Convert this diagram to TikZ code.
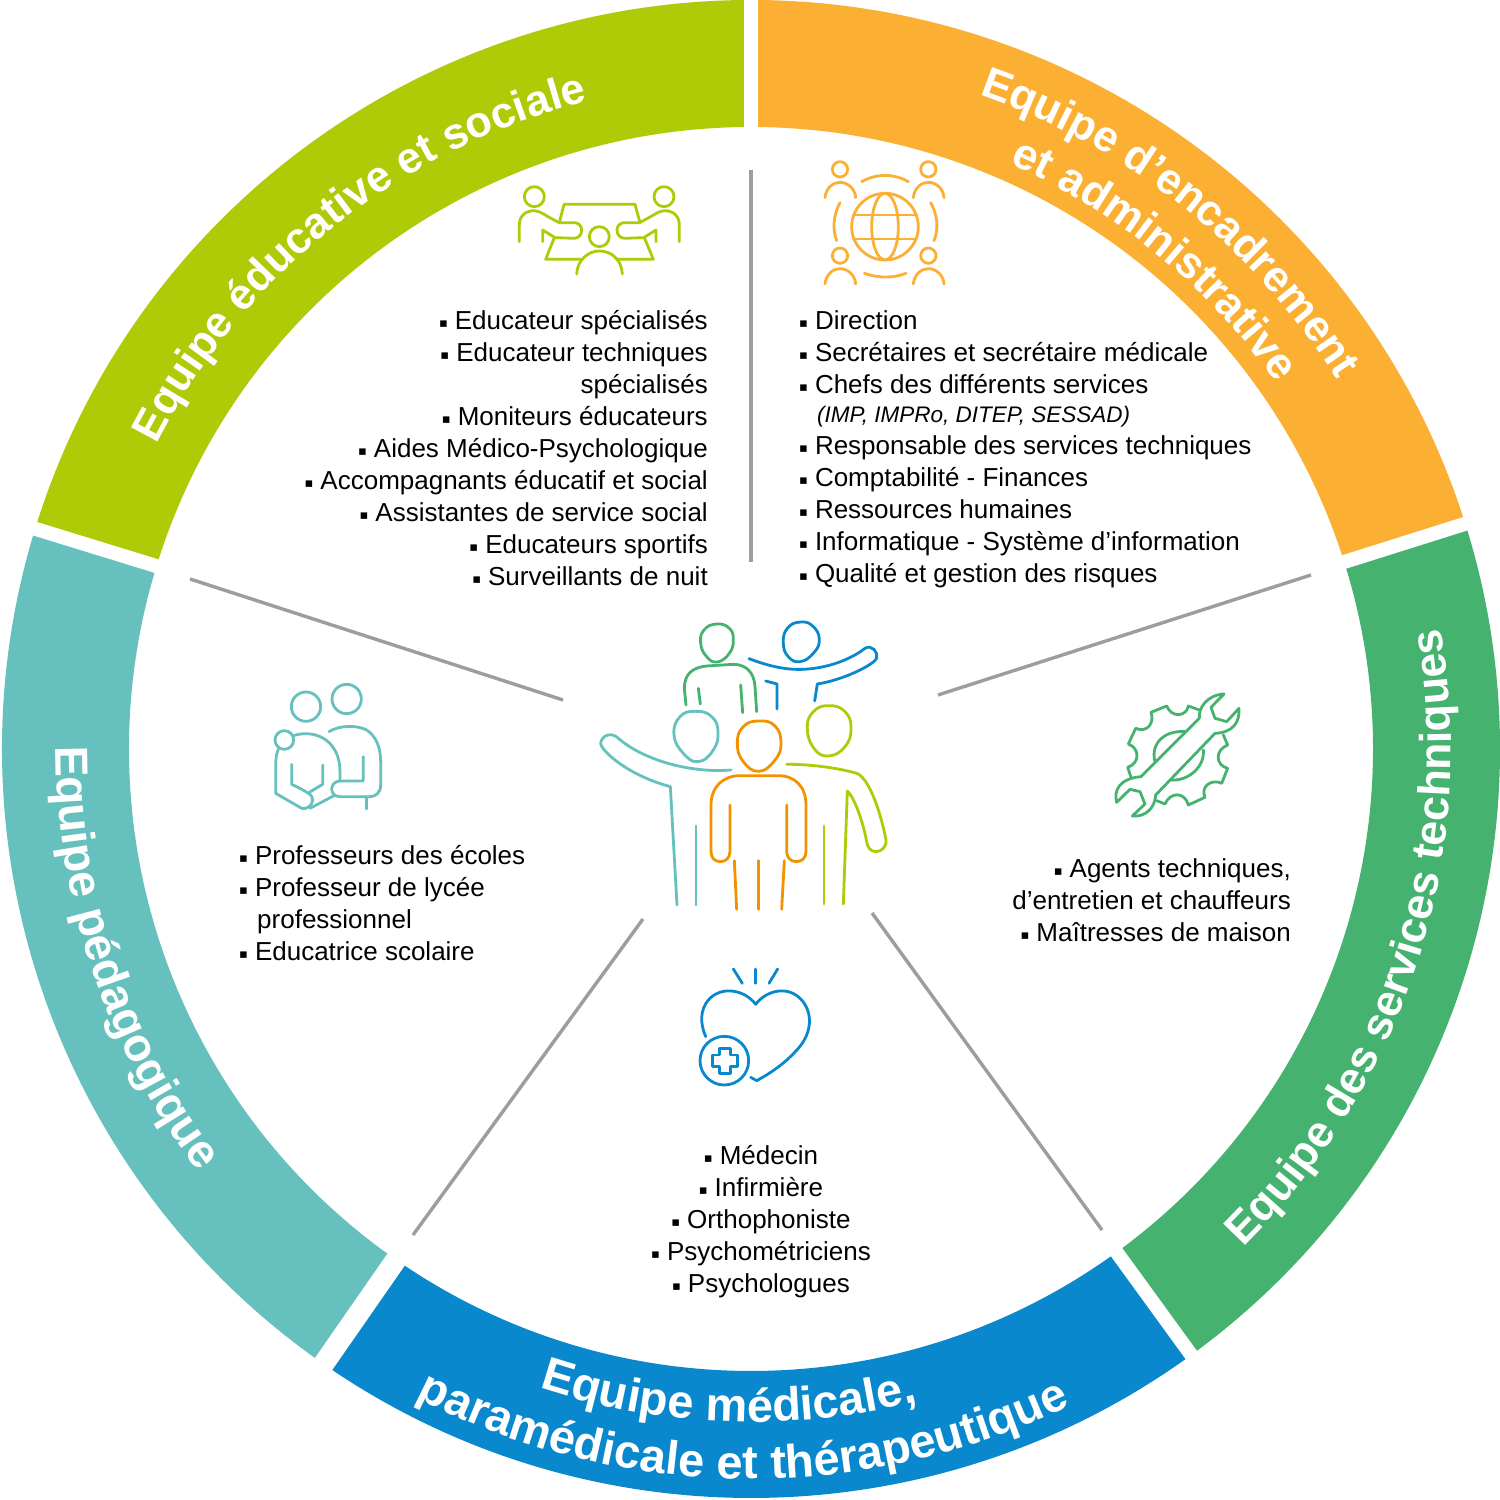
\documentclass[tikz,border=0pt]{standalone}
\usepackage{fontspec}
\usetikzlibrary{decorations.text}
\setmainfont{Liberation Sans}
\newfontfamily\symf{DejaVu Sans}
\definecolor{cLime}{HTML}{AFCB08}
\definecolor{cOrange}{HTML}{FBB034}
\definecolor{cGreen}{HTML}{45B36F}
\definecolor{cBlue}{HTML}{0A88CD}
\definecolor{cTeal}{HTML}{66C1BE}
\definecolor{cGray}{HTML}{9D9D9C}
\definecolor{cOrTwo}{HTML}{F39200}
\newcommand\bul{{\symf\fontsize{13}{13}\selectfont\raisebox{2pt}{▪}}\hspace{7pt}}
\newcommand\tfont[1]{\fontsize{#1}{50}\selectfont\bfseries\color{white}}
\newcommand\lfont{\fontsize{26}{32}\selectfont}
\tikzset{
  divider/.style={draw=cGray,line width=3.4pt},
  icon/.style={line width=2.8pt,line cap=round,line join=round},
  head/.style={smooth cycle,tension=0.8},
  listtext/.style={inner sep=0pt,font=\lfont,text=black},
  curved/.style 2 args={decorate,decoration={text along path,text align=center,text={|\tfont{#1}|#2}}},
}
\begin{document}
\begin{tikzpicture}[x=1pt,y=1pt]
\useasboundingbox (0,0) rectangle (1500,1500);
\fill[white] (0,0) rectangle (1500,1500);
\begin{scope}[shift={(751,751)}]
  \foreach \a/\b/\c in {90/17.5/cOrange,17.5/-54/cGreen,-54/-124.8/cBlue,-124.8/-197.1/cTeal,162.9/90/cLime}{
    \fill[\c] (\a:749) arc[start angle=\a,end angle=\b,radius=749] -- (\b:622) arc[start angle=\b,end angle=\a,radius=622] -- cycle;
  }
  \foreach \a/\w in {90/14,17.5/14,-54/14,-124.8/21,162.9/14}{
    \draw[white,line width=\w pt] (\a:600) -- (\a:760);
  }
  \path[curved={43.5}{Equipe éducative et sociale}] (160:668) arc[start angle=160,end angle=97,radius=668];
  \path[curved={43.5}{Equipe d’encadrement}] (84:693) arc[start angle=84,end angle=19,radius=693];
  \path[curved={44}{et administrative}] (84:640) arc[start angle=84,end angle=17,radius=640];
  \path[curved={44.5}{Equipe des services techniques}] (-58:700) arc[start angle=-58,end angle=22.6,radius=700];
  \path[curved={47}{Equipe médicale,}] (-125:673) arc[start angle=-125,end angle=-59,radius=673];
  \path[curved={47}{paramédicale et thérapeutique}] (-124.7:730) arc[start angle=-124.7,end angle=-56.7,radius=730];
  \path[curved={46.5}{Equipe pédagogique}] (160.6:695) arc[start angle=160.6,end angle=236.6,radius=695];
\end{scope}
\begin{scope}[shift={(0,1500)},yscale=-1]
  \coordinate (d1a) at (751,170); \coordinate (d1b) at (751,562);
  \coordinate (d2a) at (1311,575); \coordinate (d2b) at (938,695);
  \coordinate (d3a) at (1102,1230); \coordinate (d3b) at (872,913);
  \coordinate (d4a) at (413,1235); \coordinate (d4b) at (643,919);
  \coordinate (d5a) at (190,579); \coordinate (d5b) at (563,700);
  \draw[divider] (d1a) -- (d1b);
  \draw[divider] (d2a) -- (d2b);
  \draw[divider] (d3a) -- (d3b);
  \draw[divider] (d4a) -- (d4b);
  \draw[divider] (d5a) -- (d5b);

  \node[listtext,align=right,anchor=north east] (listlime) at (708,310) {\bul Educateur spécialisés\\\bul Educateur techniques\\spécialisés\\\bul Moniteurs éducateurs\\\bul Aides Médico-Psychologique\\\bul Accompagnants éducatif et social\\\bul Assistantes de service social\\\bul Educateurs sportifs\\\bul Surveillants de nuit};
  \node[listtext,align=left,anchor=north west] (listorange) at (799,310) {\bul Direction\\\bul Secrétaires et secrétaire médicale\\\bul Chefs des différents services\\[-3pt]\hspace{18pt}{\fontsize{22.5}{26}\selectfont\itshape (IMP, IMPRo, DITEP, SESSAD)}\\\bul Responsable des services techniques\\\bul Comptabilité - Finances\\\bul Ressources humaines\\\bul Informatique - Système d’information\\\bul Qualité et gestion des risques};
  \node[listtext,align=left,anchor=north west] (listteal) at (239,845) {\bul Professeurs des écoles\\\bul Professeur de lycée\\\hspace{18pt}professionnel\\\bul Educatrice scolaire};
  \node[listtext,align=right,anchor=north east] (listgreen) at (1291,858) {\bul Agents techniques,\\d’entretien et chauffeurs\\\bul Maîtresses de maison};
  \node[listtext,align=center,anchor=north] (listblue) at (761,1145) {\bul Médecin\\\bul Infirmière\\\bul Orthophoniste\\\bul Psychométriciens\\\bul Psychologues};

  % central people
  \begin{scope}[shift={(590,610)},scale=1/3,icon]
    \draw[cGreen] plot[head] coordinates {(380,42)(418,55)(430,90)(418,130)(382,156)(350,140)(332,100)(342,60)};
    \draw[cGreen] (288,285) -- (283,235) .. controls (283,190) and (310,172) .. (350,168) -- (430,163) .. controls (470,163) and (493,190) .. (495,230) -- (500,305);
    \draw[cGreen] (325,235) -- (331,282);
    \draw[cGreen] (452,225) -- (458,308);
    \draw[cBlue] plot[head] coordinates {(632,36)(670,50)(688,90)(670,130)(630,155)(595,140)(580,100)(592,55)};
    \draw[cBlue] (477,146) .. controls (540,170) and (590,180) .. (640,178) .. controls (710,175) and (780,150) .. (825,115) .. controls (845,103) and (865,125) .. (860,145) .. controls (850,165) and (760,210) .. (682,222) -- (674,273);
    \draw[cBlue] (527,213) -- (561,222) -- (561,297);
    \draw[cTeal] plot[head] coordinates {(318,304)(365,320)(384,365)(370,420)(325,455)(280,430)(252,375)(270,320)};
    \draw[cTeal] (423,480) .. controls (300,490) and (160,450) .. (85,385) .. controls (65,365) and (35,375) .. (32,400) .. controls (32,420) and (110,495) .. (241,530) -- (261,885);
    \draw[cTeal] (318,648) -- (318,885);
    \draw[cOrTwo] plot[head] coordinates {(507,333)(555,348)(573,400)(555,450)(507,484)(460,455)(442,400)(460,350)};
    \draw[cOrTwo] (420,585) -- (420,725) .. controls (420,745) and (405,755) .. (392,755) .. controls (375,755) and (363,745) .. (363,725) -- (363,585) .. controls (363,530) and (400,497) .. (450,497) -- (565,497) .. controls (615,497) and (648,530) .. (648,585) -- (648,725) .. controls (648,745) and (635,755) .. (618,755) .. controls (600,755) and (590,740) .. (590,725) -- (590,585);
    \draw[cOrTwo] (433,752) -- (440,898);
    \draw[cOrTwo] (505,752) -- (505,898);
    \draw[cOrTwo] (583,752) -- (575,898);
    \draw[cLime] plot[head] coordinates {(717,287)(765,305)(783,355)(765,410)(715,438)(672,415)(652,355)(670,305)};
    \draw[cLime] (590,463) .. controls (660,462) and (750,475) .. (800,490) .. controls (840,505) and (875,620) .. (888,690) .. controls (890,715) and (870,725) .. (858,725) .. controls (840,725) and (832,710) .. (830,695) .. controls (820,640) and (795,565) .. (772,543) -- (760,882);
    \draw[cLime] (702,648) -- (702,882);
  \end{scope}

  % meeting icon
  \begin{scope}[shift={(500,170)},scale=1/3,icon,cLime]
    \draw (103,80) circle[radius=30];
    \draw (492,80) circle[radius=30];
    \draw (298,200) circle[radius=30];
    \draw (58,215) -- (58,165) .. controls (58,135) and (80,122) .. (103,122) .. controls (120,122) and (140,140) .. (178,158) -- (225,158) .. controls (238,160) and (245,170) .. (245,180) .. controls (245,195) and (235,205) .. (222,205) -- (165,203) -- (128,180) -- (128,215);
    \draw (538,215) -- (538,165) .. controls (538,135) and (516,122) .. (493,122) .. controls (476,122) and (456,140) .. (418,158) -- (371,158) .. controls (358,160) and (351,170) .. (351,180) .. controls (351,195) and (361,205) .. (374,205) -- (431,203) -- (468,180) -- (468,215);
    \draw (178,158) -- (192,103) -- (405,103) -- (420,158);
    \draw (163,203) -- (137,268) -- (245,268);
    \draw (433,203) -- (460,268) -- (350,268);
    \draw (230,312) .. controls (232,270) and (265,243) .. (298,243) .. controls (335,243) and (365,270) .. (367,312);
  \end{scope}

  % globe icon
  \begin{scope}[shift={(810,150)},scale=1/3,icon,cOrange]
    \draw (225,230) circle[radius=100];
    \draw (225,230) ellipse[x radius=40,y radius=100];
    \draw (130,195) -- (320,195);
    \draw (130,267) -- (320,267);
    \foreach \hx/\hy in {90/58,355/58,90/317,355/317}{
      \draw (\hx,\hy) circle[radius=23];
      \draw (\hx-45,\hy+85) .. controls (\hx-42,\hy+57) and (\hx-22,\hy+39) .. (\hx,\hy+39) .. controls (\hx+22,\hy+39) and (\hx+45,\hy+57) .. (\hx+47,\hy+85);
    }
    \draw (155,95) .. controls (200,70) and (250,70) .. (295,95);
    \draw (163,370) .. controls (205,385) and (250,385) .. (288,370);
    \draw (90,158) .. controls (68,200) and (68,240) .. (80,272);
    \draw (362,158) .. controls (385,200) and (385,240) .. (372,272);
  \end{scope}

  % teacher icon
  \begin{scope}[shift={(260,675)},scale=1/3,icon,cTeal]
    \draw (138,95) circle[radius=44];
    \draw (260,72) circle[radius=44];
    \draw (73,195) circle[radius=28];
    \draw (100,182) .. controls (170,160) and (240,200) .. (240,290) -- (240,318);
    \draw (55,222) .. controls (47,240) and (47,260) .. (47,280) -- (47,355) -- (125,400) .. controls (140,405) and (158,390) .. (158,375) .. controls (158,360) and (145,352) .. (95,328) -- (95,268);
    \draw (188,270) -- (188,328) -- (148,352);
    \draw (150,400) -- (222,362);
    \draw (207,170) .. controls (240,150) and (290,150) .. (320,165) .. controls (350,185) and (362,220) .. (362,260) -- (362,330) .. controls (362,355) and (345,365) .. (330,365) -- (240,365) .. controls (225,365) and (215,355) .. (215,342) .. controls (215,330) and (225,318) .. (240,318) -- (310,318) -- (310,245);
    \draw (320,365) -- (320,402);
  \end{scope}

  % wrench icon
  \begin{scope}[shift={(1105,680)},scale=1/3,icon,cGreen]
    \draw (357,42) -- (318,82) -- (330,115) -- (365,125) -- (402,85) .. controls (405,125) and (385,158) .. (330,160) -- (152,345) .. controls (150,385) and (120,412) .. (82,408) -- (120,372) -- (105,335) -- (75,328) -- (35,367) .. controls (25,330) and (45,295) .. (108,290) -- (283,115) .. controls (280,85) and (305,45) .. (357,42) -- cycle;
    \draw (283,90) -- (250,78) .. controls (245,110) and (200,115) .. (185,78) -- (138,97) .. controls (150,130) and (125,160) .. (92,145) -- (70,192) .. controls (105,205) and (105,250) .. (68,262) -- (78,292);
    \draw (355,165) -- (368,195) .. controls (330,210) and (330,255) .. (368,265) -- (350,310) .. controls (320,295) and (285,320) .. (300,352) -- (250,375) .. controls (240,335) and (195,335) .. (180,372) -- (155,362);
    \draw (150,245) .. controls (135,190) and (180,150) .. (240,155);
    \draw (195,300) .. controls (250,305) and (300,260) .. (295,210);
  \end{scope}

  % heart icon
  \begin{scope}[shift={(685,960)},scale=1/3,icon,cBlue]
    \draw (145,27) -- (172,70);
    \draw (212,27) -- (212,70);
    \draw (278,27) -- (252,70);
    \draw (62,230) .. controls (45,190) and (45,150) .. (70,120) .. controls (110,75) and (180,90) .. (212,133) .. controls (245,90) and (310,75) .. (350,120) .. controls (385,160) and (380,220) .. (340,265) .. controls (305,305) and (265,335) .. (215,362) -- (197,352);
    \draw (118,302) circle[radius=73];
    \draw (103,266) -- (137,266) -- (137,285) -- (158,285) -- (158,319) -- (137,319) -- (137,340) -- (103,340) -- (103,319) -- (82,319) -- (82,285) -- (103,285) -- cycle;
  \end{scope}
\end{scope}
\end{tikzpicture}
\end{document}
